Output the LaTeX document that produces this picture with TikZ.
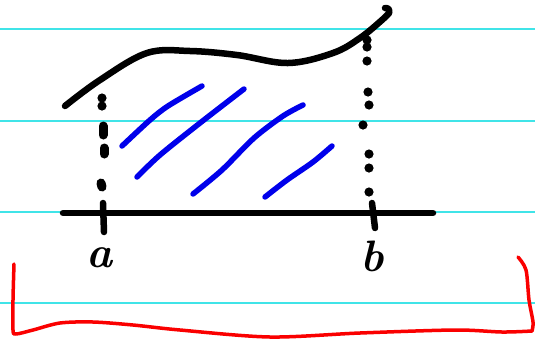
\documentclass[tikz,border=0pt]{standalone}
\usetikzlibrary{calc}
\definecolor{ruled}{RGB}{64,228,232}
\definecolor{hatch}{RGB}{0,0,235}
\definecolor{brack}{RGB}{250,0,0}
\begin{document}
\begin{tikzpicture}[x=1pt,y=-1pt,
  rule/.style={ruled,line width=1.6pt},
  ink/.style={black,line width=6.5pt,line cap=round,line join=round},
  hatchline/.style={hatch,line width=5.5pt,line cap=round,line join=round},
  brackline/.style={brack,line width=3.5pt,line cap=round,line join=round},
  dotmark/.style={black,line width=9pt,line cap=round},
  lbl/.style={font=\fontsize{44}{44}\selectfont\bfseries\itshape,inner sep=0pt}]
\useasboundingbox (0,0) rectangle (535,341);
\fill[white] (0,0) rectangle (535,341);
% ruled lines
\foreach \y in {29,121,212,303} \draw[rule] (0,\y) -- (535,\y);
% axis and ticks
\coordinate (axL) at (63,213);
\coordinate (axR) at (433,213);
\draw[ink] (axL) -- (axR);
\coordinate (taT) at (103,203);
\coordinate (taB) at (104,232);
\coordinate (tbT) at (372,203);
\coordinate (tbB) at (375,228);
\draw[ink] (taT) -- (taB);
\draw[ink] (tbT) .. controls (373,215) .. (tbB);
% curve
\draw[ink] plot[smooth,tension=0.6] coordinates {(65,106) (100,80) (147,53) (190,51) (237,55) (288,63) (333,53) (360,38) (382,20) (389,13)};
\draw[ink] (389,13) .. controls (390,9) and (388,8) .. (385,8);
% left dotted line
\foreach \p in {(102,98),(102,106)} \fill \p circle (4.6);
\draw[dotmark] (103,126) -- (103,135);
\draw[dotmark] (104,148) -- (104,154);
\draw[dotmark] (101,183) -- (102,187);
% right dotted line
\foreach \p in {(367,40),(367,47),(367,61),(368,92),(369,105),(363,125),(369,154),(369,168),(369,192)}
  \fill \p circle (4.6);
% hatching
\draw[hatchline] plot[smooth,tension=0.5] coordinates {(122,146) (150,120) (168,106) (202,86)};
\draw[hatchline] plot[smooth,tension=0.5] coordinates {(137,177) (160,155) (200,123) (244,89)};
\draw[hatchline] plot[smooth,tension=0.5] coordinates {(193,194) (222,170) (254,138) (283,116) (303,105)};
\draw[hatchline] plot[smooth,tension=0.5] coordinates {(265,197) (287,180) (313,162) (332,146)};
% labels
\node[lbl] (la) at (100,258) {a};
\node[lbl] (lb) at (372,256) {b};
% red bracket
\draw[brackline] plot[smooth,tension=0.5] coordinates {(14,264) (13,300) (13,330) (16,334) (33,330) (60,323) (93,322) (133,325) (180,330) (270,337) (360,333) (455,330) (502,332) (532,331)};
\draw[brackline] plot[smooth,tension=0.5] coordinates {(518,257) (526,270) (529,300) (533,322) (532,331)};
\end{tikzpicture}
\end{document}
